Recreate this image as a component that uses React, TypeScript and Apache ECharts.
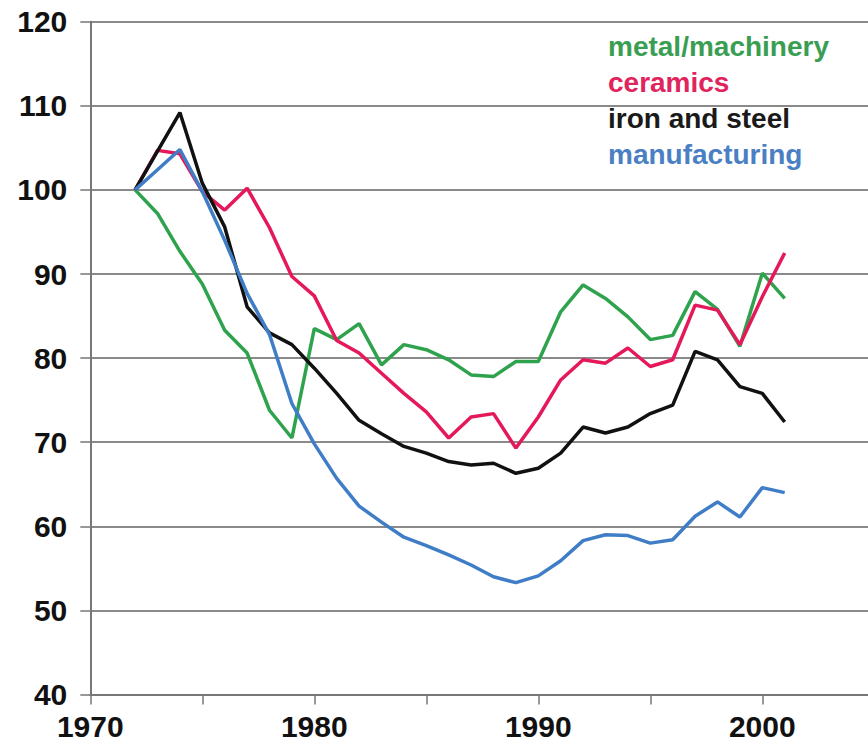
import React, { useEffect, useRef } from "react";
import * as echarts from "echarts";

const years = [1972, 1973, 1974, 1975, 1976, 1977, 1978, 1979, 1980, 1981, 1982, 1983, 1984, 1985, 1986, 1987, 1988, 1989, 1990, 1991, 1992, 1993, 1994, 1995, 1996, 1997, 1998, 1999, 2000, 2001];

const metalMachinery = [100, 97.2, 92.7, 88.8, 83.3, 80.6, 73.8, 70.5, 83.5, 82.2, 84.1, 79.2, 81.6, 81.0, 79.8, 78.0, 77.8, 79.6, 79.6, 85.5, 88.7, 87.1, 84.9, 82.2, 82.7, 87.9, 85.8, 81.4, 90.1, 87.1];
const ceramics = [100, 104.7, 104.3, 99.8, 97.6, 100.2, 95.5, 89.7, 87.4, 82.1, 80.6, 78.2, 75.8, 73.6, 70.5, 73.0, 73.4, 69.3, 73.0, 77.4, 79.8, 79.4, 81.2, 79.0, 79.8, 86.3, 85.7, 81.6, 87.3, 92.5];
const ironSteel = [100, 104.6, 109.2, 100.8, 95.6, 86.1, 83.0, 81.6, 78.8, 75.8, 72.6, 71.0, 69.5, 68.7, 67.7, 67.3, 67.5, 66.3, 66.9, 68.7, 71.8, 71.1, 71.8, 73.4, 74.4, 80.8, 79.8, 76.6, 75.8, 72.4];
const manufacturing = [100, 102.4, 104.8, 99.8, 94.0, 87.7, 82.8, 74.6, 69.8, 65.7, 62.4, 60.5, 58.7, 57.7, 56.6, 55.4, 54.0, 53.3, 54.1, 55.9, 58.3, 59.0, 58.9, 58.0, 58.4, 61.2, 62.9, 61.1, 64.6, 64.0];

const seriesNames = ["metal/machinery", "ceramics", "iron and steel", "manufacturing"];
const lineColors = ["#2fa24d", "#e5195a", "#111111", "#3f7dc6"];
const textColors = ["#3a9e52", "#e0245d", "#1a1a1a", "#4a80c3"];

const FONT = "'Liberation Sans', Arial, Helvetica, sans-serif";

export default function App() {
  const ref = useRef<HTMLDivElement>(null);
  useEffect(() => {
    if (!ref.current) return;
    const chart = echarts.init(ref.current, undefined, { renderer: "svg" });
    const values = [metalMachinery, ceramics, ironSteel, manufacturing];
    chart.setOption({
      animation: false,
      backgroundColor: "#ffffff",
      grid: { left: 90.3, right: 5.7, top: 21.7, bottom: 51.5, containLabel: false },
      legend: {
        orient: "vertical",
        left: 603,
        top: 31,
        padding: 0,
        itemGap: 6,
        itemWidth: 0,
        itemHeight: 0,
        icon: "none",
        selectedMode: false,
        data: seriesNames.map((n, i) => ({
          name: n,
          icon: "none",
          textStyle: { color: textColors[i] },
        })),
        textStyle: {
          fontFamily: FONT,
          fontWeight: "bold",
          fontSize: 28,
          lineHeight: 30,
          padding: 0,
        },
      },
      xAxis: {
        type: "value",
        min: 1970,
        max: 2005,
        interval: 5,
        axisLine: { show: true, onZero: false, lineStyle: { color: "#777", width: 2 } },
        axisTick: { show: true, length: 10, lineStyle: { color: "#777", width: 1.5 } },
        splitLine: { show: false },
        axisLabel: {
          margin: 17,
          fontFamily: FONT,
          fontWeight: "bold",
          fontSize: 30,
          color: "#111",
          formatter: (v: number) => (v % 10 === 0 && v < 2005 ? String(v) : ""),
        },
      },
      yAxis: {
        type: "value",
        min: 40,
        max: 120,
        interval: 10,
        axisLine: { show: true, lineStyle: { color: "#777", width: 2 } },
        axisTick: { show: true, length: 10, lineStyle: { color: "#777", width: 1.5 } },
        splitLine: { show: true, lineStyle: { color: "#8a8a8a", width: 2 } },
        axisLabel: {
          margin: 23,
          fontFamily: FONT,
          fontWeight: "bold",
          fontSize: 30,
          color: "#111",
        },
      },
      series: seriesNames.map((n, i) => ({
        name: n,
        type: "line",
        data: years.map((y, j) => [y, values[i][j]]),
        symbol: "none",
        lineStyle: { color: lineColors[i], width: 3.5 },
        itemStyle: { color: lineColors[i] },
        z: 2 + i,
      })),
    });
    return () => chart.dispose();
  }, []);
  return (
    <div style={{ position: "fixed", left: 0, top: 0, width: 868, height: 746, overflow: "hidden" }}>
      <div ref={ref} style={{ width: 880, height: 746 }} />
    </div>
  );
}
